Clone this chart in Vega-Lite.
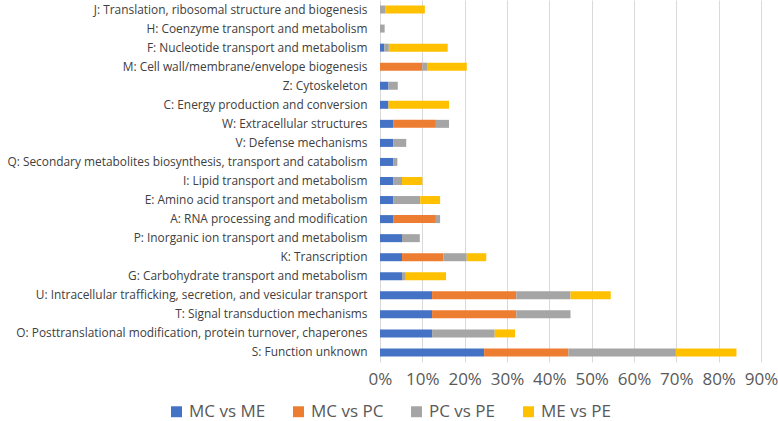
{
  "$schema": "https://vega.github.io/schema/vega-lite/v6.json",
  "width": 381,
  "height": 362,
  "autosize": {"type": "none"},
  "padding": {"left": 380, "top": 0, "right": 17, "bottom": 59},
  "background": "white",
  "config": {
    "font": "Open Sans",
    "view": {"stroke": null},
    "axis": {"labelColor": "#595959", "domain": false, "ticks": false}
  },
  "data": {
    "values": [
      {"c": "J: Translation, ribosomal structure and biogenesis", "s": "PC vs PE", "v": 0.012},
      {"c": "J: Translation, ribosomal structure and biogenesis", "s": "ME vs PE", "v": 0.094},
      {"c": "H: Coenzyme transport and metabolism", "s": "PC vs PE", "v": 0.011},
      {"c": "F: Nucleotide transport and metabolism", "s": "MC vs ME", "v": 0.010},
      {"c": "F: Nucleotide transport and metabolism", "s": "PC vs PE", "v": 0.011},
      {"c": "F: Nucleotide transport and metabolism", "s": "ME vs PE", "v": 0.139},
      {"c": "M: Cell wall/membrane/envelope biogenesis", "s": "MC vs PC", "v": 0.100},
      {"c": "M: Cell wall/membrane/envelope biogenesis", "s": "PC vs PE", "v": 0.011},
      {"c": "M: Cell wall/membrane/envelope biogenesis", "s": "ME vs PE", "v": 0.094},
      {"c": "Z: Cytoskeleton", "s": "MC vs ME", "v": 0.020},
      {"c": "Z: Cytoskeleton", "s": "PC vs PE", "v": 0.022},
      {"c": "C: Energy production and conversion", "s": "MC vs ME", "v": 0.020},
      {"c": "C: Energy production and conversion", "s": "ME vs PE", "v": 0.143},
      {"c": "W: Extracellular structures", "s": "MC vs ME", "v": 0.031},
      {"c": "W: Extracellular structures", "s": "MC vs PC", "v": 0.101},
      {"c": "W: Extracellular structures", "s": "PC vs PE", "v": 0.031},
      {"c": "V: Defense mechanisms", "s": "MC vs ME", "v": 0.031},
      {"c": "V: Defense mechanisms", "s": "PC vs PE", "v": 0.031},
      {"c": "Q: Secondary metabolites biosynthesis, transport and catabolism", "s": "MC vs ME", "v": 0.031},
      {"c": "Q: Secondary metabolites biosynthesis, transport and catabolism", "s": "PC vs PE", "v": 0.010},
      {"c": "I: Lipid transport and metabolism", "s": "MC vs ME", "v": 0.031},
      {"c": "I: Lipid transport and metabolism", "s": "PC vs PE", "v": 0.021},
      {"c": "I: Lipid transport and metabolism", "s": "ME vs PE", "v": 0.048},
      {"c": "E: Amino acid transport and metabolism", "s": "MC vs ME", "v": 0.031},
      {"c": "E: Amino acid transport and metabolism", "s": "PC vs PE", "v": 0.064},
      {"c": "E: Amino acid transport and metabolism", "s": "ME vs PE", "v": 0.047},
      {"c": "A: RNA processing and modification", "s": "MC vs ME", "v": 0.031},
      {"c": "A: RNA processing and modification", "s": "MC vs PC", "v": 0.101},
      {"c": "A: RNA processing and modification", "s": "PC vs PE", "v": 0.010},
      {"c": "P: Inorganic ion transport and metabolism", "s": "MC vs ME", "v": 0.052},
      {"c": "P: Inorganic ion transport and metabolism", "s": "PC vs PE", "v": 0.042},
      {"c": "K: Transcription", "s": "MC vs ME", "v": 0.052},
      {"c": "K: Transcription", "s": "MC vs PC", "v": 0.098},
      {"c": "K: Transcription", "s": "PC vs PE", "v": 0.055},
      {"c": "K: Transcription", "s": "ME vs PE", "v": 0.046},
      {"c": "G: Carbohydrate transport and metabolism", "s": "MC vs ME", "v": 0.052},
      {"c": "G: Carbohydrate transport and metabolism", "s": "PC vs PE", "v": 0.009},
      {"c": "G: Carbohydrate transport and metabolism", "s": "ME vs PE", "v": 0.095},
      {"c": "U: Intracellular trafficking, secretion, and vesicular transport", "s": "MC vs ME", "v": 0.123},
      {"c": "U: Intracellular trafficking, secretion, and vesicular transport", "s": "MC vs PC", "v": 0.199},
      {"c": "U: Intracellular trafficking, secretion, and vesicular transport", "s": "PC vs PE", "v": 0.128},
      {"c": "U: Intracellular trafficking, secretion, and vesicular transport", "s": "ME vs PE", "v": 0.095},
      {"c": "T: Signal transduction mechanisms", "s": "MC vs ME", "v": 0.123},
      {"c": "T: Signal transduction mechanisms", "s": "MC vs PC", "v": 0.199},
      {"c": "T: Signal transduction mechanisms", "s": "PC vs PE", "v": 0.128},
      {"c": "O: Posttranslational modification, protein turnover, chaperones", "s": "MC vs ME", "v": 0.123},
      {"c": "O: Posttranslational modification, protein turnover, chaperones", "s": "PC vs PE", "v": 0.148},
      {"c": "O: Posttranslational modification, protein turnover, chaperones", "s": "ME vs PE", "v": 0.048},
      {"c": "S: Function unknown", "s": "MC vs ME", "v": 0.246},
      {"c": "S: Function unknown", "s": "MC vs PC", "v": 0.199},
      {"c": "S: Function unknown", "s": "PC vs PE", "v": 0.254},
      {"c": "S: Function unknown", "s": "ME vs PE", "v": 0.143}
    ]
  },
  "transform": [
    {"calculate": "indexof(['MC vs ME','MC vs PC','PC vs PE','ME vs PE'], datum.s)", "as": "o"}
  ],
  "mark": {"type": "bar"},
  "encoding": {
    "y": {
      "field": "c",
      "type": "nominal",
      "sort": [
        "J: Translation, ribosomal structure and biogenesis",
        "H: Coenzyme transport and metabolism",
        "F: Nucleotide transport and metabolism",
        "M: Cell wall/membrane/envelope biogenesis",
        "Z: Cytoskeleton",
        "C: Energy production and conversion",
        "W: Extracellular structures",
        "V: Defense mechanisms",
        "Q: Secondary metabolites biosynthesis, transport and catabolism",
        "I: Lipid transport and metabolism",
        "E: Amino acid transport and metabolism",
        "A: RNA processing and modification",
        "P: Inorganic ion transport and metabolism",
        "K: Transcription",
        "G: Carbohydrate transport and metabolism",
        "U: Intracellular trafficking, secretion, and vesicular transport",
        "T: Signal transduction mechanisms",
        "O: Posttranslational modification, protein turnover, chaperones",
        "S: Function unknown"
      ],
      "scale": {"paddingInner": 0.58, "paddingOuter": 0.29},
      "axis": {"title": null, "labelFontSize": 11.9, "labelPadding": 13, "labelLimit": 380, "labelColor": "#404040"}
    },
    "x": {
      "field": "v",
      "type": "quantitative",
      "stack": "zero",
      "scale": {"domain": [0, 0.9], "nice": false},
      "axis": {
        "title": null,
        "format": ".0%",
        "values": [0, 0.1, 0.2, 0.3, 0.4, 0.5, 0.6, 0.7, 0.8, 0.9],
        "labelFontSize": 17,
        "labelPadding": 9,
        "labelOverlap": false,
        "labelBound": false,
        "labelFlush": false,
        "gridColor": "#d9d9d9",
        "gridWidth": 1
      }
    },
    "color": {
      "field": "s",
      "type": "nominal",
      "scale": {
        "domain": ["MC vs ME", "MC vs PC", "PC vs PE", "ME vs PE"],
        "range": ["#4472C4", "#ED7D31", "#A5A5A5", "#FFC000"]
      },
      "legend": {
        "title": null,
        "orient": "none",
        "direction": "horizontal",
        "legendX": -212,
        "legendY": 403,
        "symbolType": "square",
        "symbolSize": 120,
        "symbolStrokeWidth": 0,
        "symbolOpacity": 1,
        "labelFontSize": 17,
        "labelColor": "#595959",
        "columnPadding": 24,
        "labelOffset": 4
      }
    },
    "order": {"field": "o", "type": "quantitative"}
  }
}
